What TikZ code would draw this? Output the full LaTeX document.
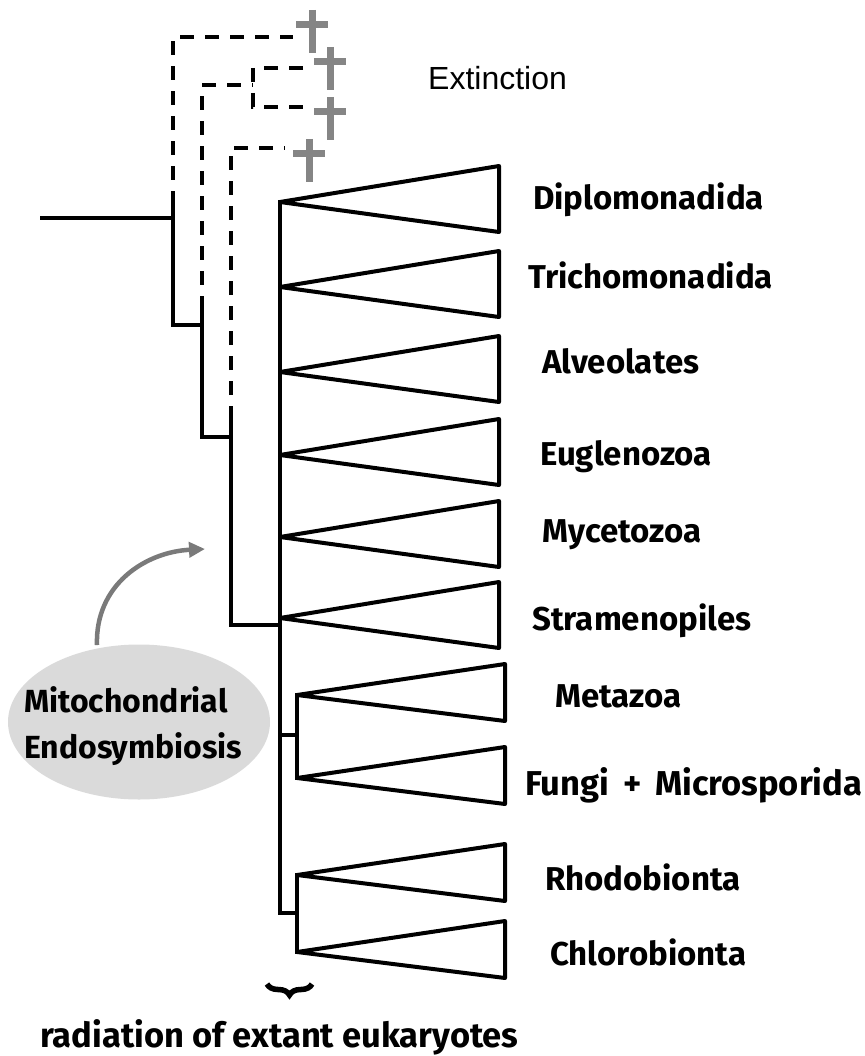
\documentclass[tikz,border=0pt]{standalone}
\usepackage{fontspec}
\setmainfont{Fira Sans}
\newfontfamily\labfont{Fira Sans}
\newfontfamily\extfont{Liberation Sans}
\usetikzlibrary{arrows.meta,decorations.pathreplacing,shapes.geometric}
\definecolor{crossgray}{HTML}{858585}
\definecolor{arrgray}{HTML}{7A7A7A}
\definecolor{ellgray}{HTML}{DADADA}
\tikzset{
  tree/.style={line width=4pt, line cap=rect},
  ext/.style={line width=4pt, dash pattern=on 14pt off 11pt},
  clade/.style={line width=4pt, line join=round},
  crossln/.style={line width=7pt, draw=crossgray},
  xcross/.pic={\draw[crossln] (0,-15) -- (0,28); \draw[crossln] (-16,0) -- (16,0);},
  lab/.style={anchor=base west, inner sep=0pt, font=\labfont\bfseries\fontsize{33}{33}\selectfont},
  labw/.style={lab, font=\labfont\bfseries\fontsize{34.5}{34.5}\selectfont},
  ellab/.style={lab, font=\labfont\bfseries\fontsize{32}{32}\selectfont},
}
\begin{document}
\begin{tikzpicture}[x=1pt,y=-1pt]
\useasboundingbox (0,0) rectangle (864,1056);
% coordinates of tree
\coordinate (root) at (42,218);
\coordinate (n1) at (173,218);
\coordinate (n1b) at (173,325);
\coordinate (n2) at (202,325);
\coordinate (n2b) at (202,437);
\coordinate (n3) at (231,437);
\coordinate (n3b) at (231,625);
\coordinate (n4) at (280,625);
% extinct lineages
\draw[ext] (173,205) -- (173,37) -- (293,37);
\draw[ext] (202,310) -- (202,85) -- (253,85);
\draw[ext] (303,68) -- (253,68) -- (253,107) -- (303,107);
\draw[ext] (231,420) -- (231,148) -- (285,148);
\pic at (312,25) {xcross};
\pic at (330,62) {xcross};
\pic at (330,112) {xcross};
\pic at (309,154) {xcross};
\node[anchor=base west, inner sep=0pt, font=\extfont\fontsize{32}{32}\selectfont] (ext) at (428,90) {Extinction};
% solid tree
\draw[tree] (root) -- (n1);
\draw[tree] (173,205) -- (n1b) -- (n2);
\draw[tree] (202,310) -- (n2b) -- (n3);
\draw[tree] (231,420) -- (n3b) -- (n4);
% backbone
\coordinate (a1) at (280,202);
\coordinate (a2) at (280,287);
\coordinate (a3) at (280,372);
\coordinate (a4) at (280,455);
\coordinate (a5) at (280,537);
\coordinate (a6) at (280,618);
\coordinate (m1) at (280,735);
\coordinate (m2) at (280,913);
\coordinate (s1) at (297,735);
\coordinate (s2) at (297,913);
\coordinate (b1) at (297,695);
\coordinate (b2) at (297,778);
\coordinate (b3) at (297,875);
\coordinate (b4) at (297,952);
\draw[tree] (a1) -- (m2);
\draw[tree] (m1) -- (s1);
\draw[tree] (m2) -- (s2);
\draw[tree] (b1) -- (b2);
\draw[tree] (b3) -- (b4);
% clades
\foreach \c in {a1,a2,a3,a4,a5,a6}{
  \draw[clade] (\c) -- ([shift={(219,-36)}]\c) -- ([shift={(219,30)}]\c) -- cycle;
}
\foreach \c in {b1,b2,b3,b4}{
  \draw[clade] (\c) -- ([shift={(208,-31)}]\c) -- ([shift={(208,26)}]\c) -- cycle;
}
% labels
\node[lab] (l1) at (533,210) {Diplomonadida};
\node[lab] (l2) at (528,288) {Trichomonadida};
\node[lab] (l3) at (542,373) {Alveolates};
\node[lab] (l4) at (540,465) {Euglenozoa};
\node[lab] (l5) at (542,542) {Mycetozoa};
\node[lab] (l6) at (532,630) {Stramenopiles};
\node[lab] (l7) at (555,707) {Metazoa};
\node[labw] (l8) at (525,795) {Fungi \,+\, Microsporida};
\node[lab] (l9) at (545,890) {Rhodobionta};
\node[lab] (l10) at (550,965) {Chlorobionta};
% brace and bottom text
\coordinate (br1) at (267,984);
\coordinate (br2) at (312,984);
\draw[line width=5.5pt, decorate, decoration={brace, amplitude=11pt, mirror}] (br1) -- (br2);
\node[labw] (rad) at (40,1047) {radiation of extant eukaryotes};
% ellipse and arrow
\node[ellipse, fill=ellgray, minimum width=262pt, minimum height=155pt, inner sep=0pt] (ell) at (139,722) {};
\node[ellab] (mt) at (24,712) {Mitochondrial};
\node[ellab] (en) at (24,758) {Endosymbiosis};
\coordinate (arrend) at (205,549);
\draw[line width=4.5pt, draw=arrgray, -{Triangle[length=16pt,width=15pt,fill=arrgray]}] (97,645) .. controls (95,585) and (145,552) .. (arrend);
\end{tikzpicture}
\end{document}
